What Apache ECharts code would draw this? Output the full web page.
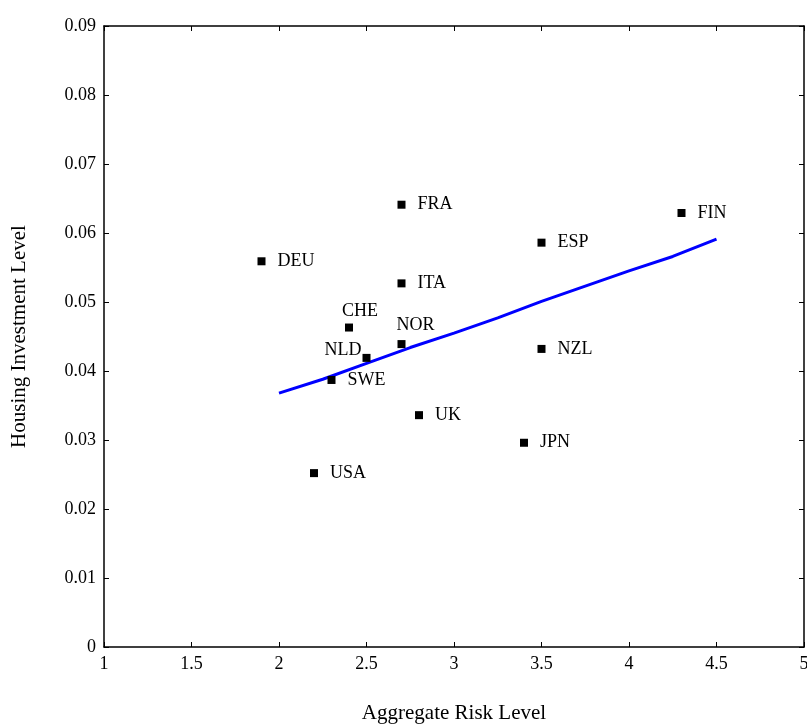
<!DOCTYPE html>
<html>
<head>
<meta charset="utf-8">
<script src="https://cdn.jsdelivr.net/npm/echarts@6/dist/echarts.min.js"></script>
<style>
html,body{margin:0;padding:0;background:#fff;}
#chart{width:807px;height:725px;}
</style>
</head>
<body>
<div id="chart"></div>
<script>
// countries: risk level / housing investment
var countries = ['DEU','FRA','ITA','CHE','NOR','NLD','SWE','UK','USA','ESP','NZL','JPN','FIN'];
var riskLevel = [1.9, 2.7, 2.7, 2.4, 2.7, 2.5, 2.3, 2.8, 2.2, 3.5, 3.5, 3.4, 4.3];
var housingInv = [0.0559, 0.0641, 0.0527, 0.0463, 0.0439, 0.0419, 0.0387, 0.0336, 0.0252, 0.0586, 0.0432, 0.0296, 0.0629];

// fitted line
var fitX = [2.0, 2.25, 2.5, 2.75, 3.0, 3.25, 3.5, 3.75, 4.0, 4.25, 4.5];
var fitY = [0.0368, 0.0388, 0.0411, 0.0434, 0.0455, 0.0477, 0.0501, 0.0523, 0.0545, 0.0566, 0.0591];

var xTicks = [1, 1.5, 2, 2.5, 3, 3.5, 4, 4.5, 5];
var yTicks = [0, 0.01, 0.02, 0.03, 0.04, 0.05, 0.06, 0.07, 0.08, 0.09];

// label placement per country (offsets only)
var labelPos = {
  CHE: {position: 'top', offset: [11, 9]},
  NOR: {position: 'top', offset: [14, 6]},
  NLD: {position: 'left', offset: [11, -8]}
};

var font = '"Liberation Serif", "DejaVu Serif", serif';

var pts = [];
for (var i = 0; i < countries.length; i++) {
  var item = {value: [riskLevel[i], housingInv[i]], name: countries[i]};
  if (labelPos[countries[i]]) {
    item.label = labelPos[countries[i]];
  }
  pts.push(item);
}
var line = [];
for (var j = 0; j < fitX.length; j++) {
  line.push([fitX[j], fitY[j]]);
}

var axisCommon = {
  axisLine: {show: true, onZero: false, lineStyle: {color: '#000', width: 1.5}},
  axisTick: {show: true, inside: true, length: 5, lineStyle: {color: '#000'}},
  splitLine: {show: false}
};

var myChart = echarts.init(document.getElementById('chart'));
myChart.setOption({
  backgroundColor: '#fff',
  animation: false,
  grid: {left: 104, right: 3, top: 26, bottom: 78, outerBoundsMode: 'none', containLabel: false},
  xAxis: [
    Object.assign({
      type: 'value', min: 1, max: 5, interval: 0.5, position: 'bottom',
      name: 'Aggregate Risk Level', nameLocation: 'middle', nameGap: 56,
      nameTextStyle: {fontFamily: font, fontSize: 21, color: '#000'},
      axisLabel: {fontFamily: font, fontSize: 18, color: '#000', margin: 8,
        formatter: function (v) { return xTicks.indexOf(v) >= 0 ? String(v) : ''; }}
    }, axisCommon),
    Object.assign({
      type: 'value', min: 1, max: 5, interval: 0.5, position: 'top',
      axisLabel: {show: false}
    }, axisCommon)
  ],
  yAxis: [
    Object.assign({
      type: 'value', min: 0, max: 0.09, interval: 0.01, position: 'left',
      name: 'Housing Investment Level', nameLocation: 'middle', nameGap: 74,
      nameTextStyle: {fontFamily: font, fontSize: 21, color: '#000'},
      axisLabel: {fontFamily: font, fontSize: 18, color: '#000', margin: 8,
        formatter: function (v) { return String(yTicks[Math.round(v * 100)]); }}
    }, axisCommon),
    Object.assign({
      type: 'value', min: 0, max: 0.09, interval: 0.01, position: 'right',
      axisLabel: {show: false}
    }, axisCommon)
  ],
  series: [
    {
      type: 'line',
      data: line,
      showSymbol: false,
      symbol: 'none',
      lineStyle: {color: '#0000ff', width: 3},
      z: 2
    },
    {
      type: 'scatter',
      data: pts,
      symbol: 'rect',
      symbolSize: 8,
      itemStyle: {color: '#000', opacity: 1},
      label: {
        show: true,
        position: 'right',
        distance: 12,
        formatter: '{b}',
        fontFamily: font,
        fontSize: 18,
        color: '#000'
      },
      z: 3
    }
  ]
});
</script>
</body>
</html>
